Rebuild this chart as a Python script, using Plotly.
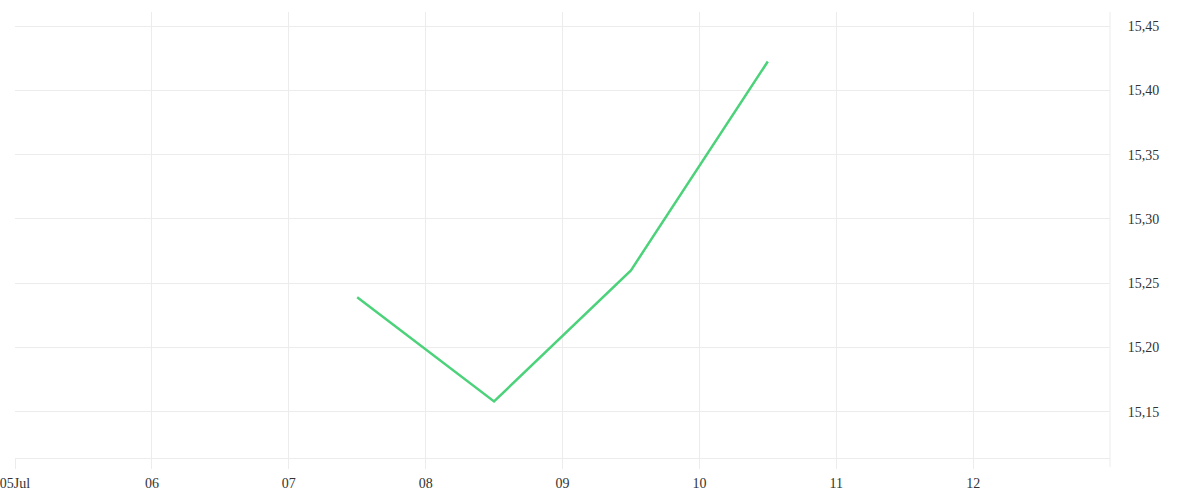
import plotly.graph_objects as go

dates = ["2024-07-07 12:00", "2024-07-08 12:00", "2024-07-09 12:00", "2024-07-10 12:00"]
values = [15.239, 15.158, 15.260, 15.4225]

x_tickvals = ["2024-07-05", "2024-07-06", "2024-07-07", "2024-07-08", "2024-07-09",
              "2024-07-10", "2024-07-11", "2024-07-12"]
x_ticktext = ["05Jul", "06", "07", "08", "09", "10", "11", "12"]
y_tickvals = [15.15, 15.20, 15.25, 15.30, 15.35, 15.40, 15.45]

fig = go.Figure()
fig.add_trace(go.Scatter(x=dates, y=values, mode="lines",
                         line=dict(color="#4cd27a", width=2.5), showlegend=False))

fig.update_layout(
    width=1200, height=500,
    margin=dict(l=15, r=90, t=12, b=42, autoexpand=False),
    paper_bgcolor="white", plot_bgcolor="white",
    separators=",.",
    font=dict(family="Liberation Serif, DejaVu Serif, serif", size=14, color="#333333"),
)
fig.update_xaxes(
    type="date", range=["2024-07-05", "2024-07-13"],
    tickvals=x_tickvals, ticktext=x_ticktext, automargin=False,
    ticklabeloverflow="allow",
    showgrid=True, gridcolor="#ececec", gridwidth=1,
    ticks="outside", ticklen=10, tickcolor="#ececec", ticklabelstandoff=2,
    showline=True, linecolor="#ececec", zeroline=False,
    tickfont=dict(size=14, color="#333333"),
)
fig.update_yaxes(
    side="right", range=[15.114, 15.461], automargin=False,
    tickvals=y_tickvals, tickformat=".2f",
    showgrid=True, gridcolor="#ececec", gridwidth=1,
    ticks="outside", ticklen=14, tickcolor="rgba(0,0,0,0)",
    showline=False, zeroline=False,
    tickfont=dict(size=14, color="#333333"),
)
# right-side vertical boundary line
fig.add_shape(type="line", xref="paper", yref="paper", x0=1, x1=1, y0=-0.02, y1=1,
              line=dict(color="#ececec", width=1))
fig.write_html("out.html", post_script="document.body.style.margin='0';",
               config={"displayModeBar": False})
